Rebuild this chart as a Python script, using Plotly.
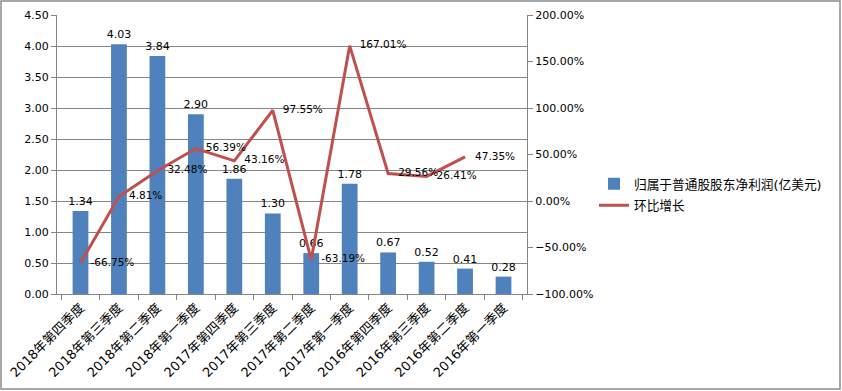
import plotly.graph_objects as go

categories = ["2018年第四季度", "2018年第三季度", "2018年第二季度", "2018年第一季度",
              "2017年第四季度", "2017年第三季度", "2017年第二季度", "2017年第一季度",
              "2016年第四季度", "2016年第三季度", "2016年第二季度", "2016年第一季度"]
net_profit = [1.34, 4.03, 3.84, 2.90, 1.86, 1.30, 0.66, 1.78, 0.67, 0.52, 0.41, 0.28]
growth = [-66.75, 4.81, 32.48, 56.39, 43.16, 97.55, -63.19, 167.01, 29.56, 26.41, 47.35, None]

bar_name = "归属于普通股股东净利润(亿美元)"
line_name = "环比增长"

FONT = "DejaVu Sans, Noto Sans CJK SC, sans-serif"
W, H = 842, 391
L, R, T, B = 57, 315, 15, 97
pw, ph = W - L - R, H - T - B

fig = go.Figure()
fig.add_trace(go.Bar(
    x=categories, y=net_profit, name=bar_name, legendgroup="a",
    marker=dict(color="#4F81BD", line=dict(width=0)),
    text=[f"{v:.2f}" for v in net_profit], textposition="outside",
    constraintext="none",
    textfont=dict(size=11, color="#000000", family=FONT),
    cliponaxis=False, yaxis="y"))
fig.add_trace(go.Scatter(
    x=categories, y=growth, name=line_name, mode="lines+text", legendgroup="b",
    line=dict(color="#C0504D", width=3),
    text=[f"   {v:.2f}%" if v is not None else "" for v in growth],
    textposition="middle right",
    textfont=dict(size=10.5, color="#000000", family=FONT),
    cliponaxis=False, yaxis="y2"))

def px_x(p):
    return (p - L) / pw

def px_y(p):
    return (H - B - p) / ph

fig.update_layout(
    width=W, height=H,
    margin=dict(l=L, r=R, t=T, b=B, autoexpand=False),
    paper_bgcolor="white", plot_bgcolor="white",
    font=dict(family=FONT, size=11, color="#000000"),
    bargap=0.59,
    showlegend=True,
    legend=dict(x=px_x(594), y=px_y(169), xanchor="left", yanchor="top",
                font=dict(size=12.7, family=FONT), tracegroupgap=2,
                traceorder="grouped", bgcolor="rgba(0,0,0,0)"),
    xaxis=dict(type="category", tickangle=-45, showline=True, linecolor="#868686",
               ticks="outside", tickson="boundaries", ticklen=5, tickcolor="#868686",
               showgrid=False, automargin=False, tickfont=dict(size=13, family=FONT)),
    yaxis=dict(range=[0, 4.5], dtick=0.5, tickformat=".2f", showline=True,
               linecolor="#868686", ticks="outside", ticklen=5, tickcolor="#868686",
               showgrid=True, gridcolor="#868686", gridwidth=1, zeroline=False,
               automargin=False, tickfont=dict(size=11, family=FONT)),
    yaxis2=dict(range=[-100, 200], dtick=50, overlaying="y", side="right",
                ticksuffix="%", tickformat=".2f", showline=True, linecolor="#868686",
                ticks="outside", ticklen=5, tickcolor="#868686", showgrid=False,
                zeroline=False, automargin=False, tickfont=dict(size=11, family=FONT)),
    shapes=[dict(type="rect", xref="paper", yref="paper",
                 x0=px_x(1), x1=px_x(840), y0=px_y(389), y1=px_y(1),
                 line=dict(color="#8C8C8C", width=1.5), fillcolor="rgba(0,0,0,0)",
                 layer="below")],
)

fig.write_html("out.html", config={"displayModeBar": False},
               post_script="document.body.style.margin='0';document.body.style.overflow='hidden';")
